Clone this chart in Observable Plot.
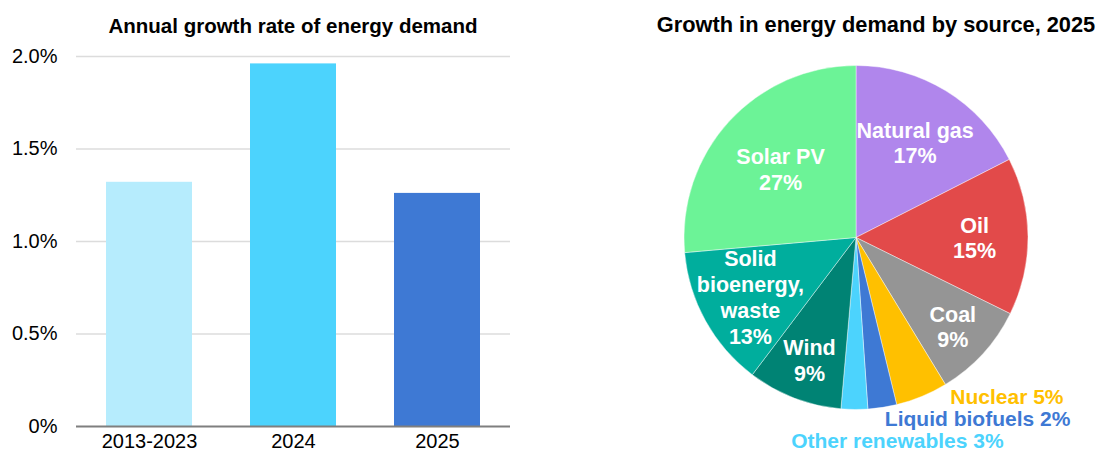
<!DOCTYPE html>
<html><head><meta charset="utf-8">
<script src="https://cdn.jsdelivr.net/npm/d3@7"></script>
<script src="https://cdn.jsdelivr.net/npm/@observablehq/plot@0.6"></script>
<style>
body{margin:0;background:#fff;font-family:"Liberation Sans",Arial,sans-serif;}
#wrap{position:relative;width:1099px;height:452px;overflow:hidden;background:#fff;}
.title{position:absolute;top:14px;font-weight:bold;font-size:20.5px;line-height:24px;color:#000;white-space:nowrap;transform:translateX(-50%);}
#left,#right{position:absolute;top:0;}
</style></head><body>
<div id="wrap">
 <div id="left" style="left:0"></div>
 <div id="right" style="left:560px"></div>
 <div class="title" style="left:293px">Annual growth rate of energy demand</div>
 <div class="title" style="left:876px;font-size:21.8px;top:13px">Growth in energy demand by source, 2025</div>
</div>
<script>
// ---- Bar chart data ----
const periods = ["2013-2023", "2024", "2025"];
const growthRates = [0.0132, 0.0196, 0.0126];
const barColors = ["#b6ecfd", "#4cd3fd", "#3e79d4"];
const yTicks = [0, 0.005, 0.01, 0.015, 0.02];
const yTickLabels = ["0%", "0.5%", "1.0%", "1.5%", "2.0%"];

// ---- Pie chart data ----
const sources = ["Natural gas", "Oil", "Coal", "Nuclear", "Liquid biofuels", "Other renewables", "Wind", "Solid bioenergy, waste", "Solar PV"];
const shares = [17.5, 14.8, 9.0, 4.9, 2.7, 2.5, 8.9, 13.3, 26.4];
const shareLabels = ["17%", "15%", "9%", "5%", "2%", "3%", "9%", "13%", "27%"];
const sourceColors = ["#b086ec", "#e24a4a", "#959595", "#ffc000", "#3e79d4", "#4cd3fd", "#008374", "#00ae9d", "#6cf397"];
const outsideSources = ["Nuclear", "Liquid biofuels", "Other renewables"];

const FONT = "Liberation Sans, Arial, sans-serif";

// ---- Bar chart ----
const barData = periods.map((p, i) => ({period: p, rate: growthRates[i]}));
const left = Plot.plot({
  width: 560, height: 452,
  marginLeft: 76, marginRight: 50, marginTop: 56, marginBottom: 26,
  style: {fontFamily: FONT, fontSize: "20px", color: "#000", background: "transparent", overflow: "visible"},
  x: {domain: periods, paddingInner: 0.4, paddingOuter: 0.2, label: null},
  y: {domain: [0, 0.02], label: null},
  color: {domain: periods, range: barColors},
  marks: [
    Plot.gridY(yTicks.slice(1), {stroke: "#dcdcdc", strokeOpacity: 1, strokeWidth: 1.6}),
    Plot.barY(barData, {x: "period", y: "rate", fill: "period"}),
    Plot.ruleY([0], {stroke: "#7f7f7f", strokeWidth: 2}),
    Plot.axisY(yTicks, {tickSize: 0, tickPadding: 19, label: null, fontSize: 20,
      tickFormat: d => yTickLabels[yTicks.indexOf(d)]}),
    Plot.axisX({tickSize: 0, tickPadding: 7, label: null, fontSize: 20})
  ]
});
document.getElementById("left").appendChild(left);

// ---- Pie chart ----
const arcs = d3.pie().sort(null).value(d => d)(shares);
const wrapName = n => n.length > 12 && n.includes(",") ? n.split(" ").join("\n") : n;
const pieData = sources.map((s, i) => {
  const a = arcs[i];
  const mid = (a.startAngle + a.endAngle) / 2;
  const span = (a.endAngle - a.startAngle) * 180 / Math.PI;
  return {source: s, share: shares[i], label: shareLabels[i], color: sourceColors[i], mid, span,
          inside: !outsideSources.includes(s)};
});
const R = 172;
// label distance from centre: narrower slices push their label further out
const labelK = d => Math.max(103, 150 - 0.6 * d.span) / R;
const insideData = pieData.filter(d => d.inside).map(d => ({
  ...d, lx: labelK(d) * Math.sin(d.mid), ly: labelK(d) * Math.cos(d.mid), text: wrapName(d.source) + "\n" + d.label
}));
const edge = d => ({...d, lx: Math.sin(d.mid), ly: Math.cos(d.mid), text: d.source + " " + d.label});
const outsideLabel = (name, opts) => Plot.text(pieData.filter(d => d.source === name).map(edge), {
  x: "lx", y: "ly", text: "text", fill: "color", fontWeight: "bold", fontSize: 21, ...opts
});

const cxLocal = 296, cyLocal = 237.5;
const right = Plot.plot({
  width: 539, height: 452, margin: 0,
  style: {fontFamily: FONT, background: "transparent", overflow: "visible"},
  x: {domain: [-1, 1], range: [cxLocal - R, cxLocal + R], axis: null},
  y: {domain: [-1, 1], range: [cyLocal + R, cyLocal - R], axis: null},
  marks: [
    (index, scales) => {
      const cx = scales.x(0), cy = scales.y(0), r = scales.x(1) - cx;
      const arc = d3.arc().innerRadius(0).outerRadius(r);
      const g = d3.create("svg:g").attr("transform", `translate(${cx},${cy})`);
      g.selectAll("path").data(arcs).join("path")
        .attr("d", arc)
        .attr("fill", (d, i) => sourceColors[i])
        .attr("stroke", "#ffffff").attr("stroke-width", 0.6).attr("stroke-opacity", 0.7);
      return g.node();
    },
    Plot.text(insideData, {x: "lx", y: "ly", text: "text", fill: "#fff", fontWeight: "bold",
      fontSize: 21.5, lineHeight: 1.2, lineAnchor: "middle"}),
    outsideLabel("Nuclear", {textAnchor: "start", dx: 28, dy: 0}),
    outsideLabel("Liquid biofuels", {textAnchor: "start", dx: 2, dy: 11.5}),
    outsideLabel("Other renewables", {textAnchor: "middle", dx: 42.5, dy: 31.5})
  ]
});
document.getElementById("right").appendChild(right);
</script>
</body></html>
